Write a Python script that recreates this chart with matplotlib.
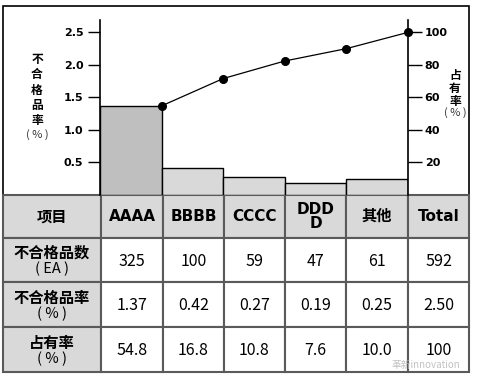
import matplotlib.pyplot as plt
from matplotlib.patches import Rectangle
import numpy as np

plt.rcParams['font.family'] = ['Noto Sans CJK SC', 'DejaVu Sans']

# data
categories = ["AAAA", "BBBB", "CCCC", "DDDD", "其他"]
header_labels = ["AAAA", "BBBB", "CCCC", "DDD\nD", "其他", "Total"]
defect_count = [325, 100, 59, 47, 61]
defect_rate = [1.37, 0.42, 0.27, 0.19, 0.25]
share = [54.8, 16.8, 10.8, 7.6, 10.0]
total_count = 592
total_rate = "2.50"
total_share = "100"
cumulative = [54.8, 71.6, 82.4, 90.0, 100.0]

W, H = 478, 378
fig = plt.figure(figsize=(W / 100, H / 100), dpi=100)


def fx(px):
    return px / W


def fy(py):
    return 1 - py / H


# chart area (pixel layout)
ax_left, ax_right, ax_top, ax_bottom = 100, 408, 20, 195
ax = fig.add_axes([fx(ax_left), fy(ax_bottom), fx(ax_right - ax_left), (ax_bottom - ax_top) / H])
x = np.arange(len(categories))
colors = ["#bfbfbf"] + ["#d9d9d9"] * (len(categories) - 1)
ax.bar(x, defect_rate, width=1.0, align="edge", color=colors, edgecolor="black", linewidth=1.0)
ax.set_xlim(0, len(categories))
ax.set_ylim(0, 2.69)
ax.set_yticks([0.5, 1.0, 1.5, 2.0, 2.5])
ax.set_yticklabels(["0.5", "1.0", "1.5", "2.0", "2.5"], fontweight="bold", fontsize=8, family="DejaVu Sans")
ax.tick_params(axis="y", length=9, width=1.0, pad=3)
ax.set_xticks([])
for s in ["top", "bottom", "right"]:
    ax.spines[s].set_visible(False)
ax.spines["left"].set_linewidth(1.2)

ax2 = ax.twinx()
ax2.plot(x + 1, cumulative, color="black", linewidth=0.9, marker="o", markersize=5.5, clip_on=False, zorder=5)
ax2.set_ylim(0, 2.69 * 40)
ax2.set_yticks([20, 40, 60, 80, 100])
ax2.set_yticklabels(["20", "40", "60", "80", "100"], fontweight="bold", fontsize=8, family="DejaVu Sans")
ax2.tick_params(axis="y", length=10, width=1.0, pad=2)
for s in ["top", "bottom", "left"]:
    ax2.spines[s].set_visible(False)
ax2.spines["right"].set_linewidth(1.2)

# axis titles (vertical stacked characters)
fig.text(fx(37), fy(90), "不\n合\n格\n品\n率", ha="center", va="center", fontsize=8.5,
         fontweight="bold", linespacing=1.22)
fig.text(fx(37), fy(135), "( % )", ha="center", va="center", fontsize=8, color="#333333")
fig.text(fx(455), fy(88), "占\n有\n率", ha="center", va="center", fontsize=8.5,
         fontweight="bold", linespacing=1.0)
fig.text(fx(455), fy(113), "( % )", ha="center", va="center", fontsize=8, color="#333333")

# table
tab = fig.add_axes([0, 0, 1, 1], zorder=-1)
tab.set_xlim(0, W)
tab.set_ylim(H, 0)
tab.axis("off")

col_edges = [3, 101, 163, 224, 285, 346, 408, 469]
row_edges = [195, 238, 282, 327, 372]
grid_color = "#5a5a5a"

rows = [
    [("项目", None)] + [(h, None) for h in header_labels],
    [("不合格品数", "( EA )")] + [(str(v), None) for v in defect_count] + [(str(total_count), None)],
    [("不合格品率", "( % )")] + [(f"{v:.2f}", None) for v in defect_rate] + [(total_rate, None)],
    [("占有率", "( % )")] + [(f"{v:.1f}", None) for v in share] + [(total_share, None)],
]

for r, row in enumerate(rows):
    y0, y1 = row_edges[r], row_edges[r + 1]
    for c, (main, sub) in enumerate(row):
        x0, x1 = col_edges[c], col_edges[c + 1]
        fill = "#d9d9d9" if (r == 0 or c == 0) else "white"
        tab.add_patch(Rectangle((x0, y0), x1 - x0, y1 - y0, facecolor=fill,
                                edgecolor=grid_color, linewidth=1.5))
        cx, cy = (x0 + x1) / 2, (y0 + y1) / 2
        if r == 0:
            tab.text(cx, cy, main, ha="center", va="center", fontsize=11,
                     fontweight="bold", linespacing=0.95,
                     family=["DejaVu Sans", "Noto Sans CJK SC"] if c > 0 else None)
        elif c == 0:
            tab.text(cx, cy - 7, main, ha="center", va="center", fontsize=11, fontweight="bold")
            tab.text(cx, cy + 9, sub, ha="center", va="center", fontsize=10.5)
        else:
            tab.text(cx, cy + 1, main, ha="center", va="center", fontsize=11.5)

# outer frame
frame = fig.add_axes([0, 0, 1, 1], zorder=-2)
frame.set_xlim(0, W)
frame.set_ylim(H, 0)
frame.axis("off")
frame.add_patch(Rectangle((3, 6), 466, 366, facecolor="white", edgecolor="black", linewidth=1.2))

# watermark
fig.text(fx(426), fy(365), "革新innovation", ha="center", va="center", fontsize=7,
         color="#bbbbbb", alpha=0.9, zorder=10)

fig.savefig("out.png", dpi=100)
